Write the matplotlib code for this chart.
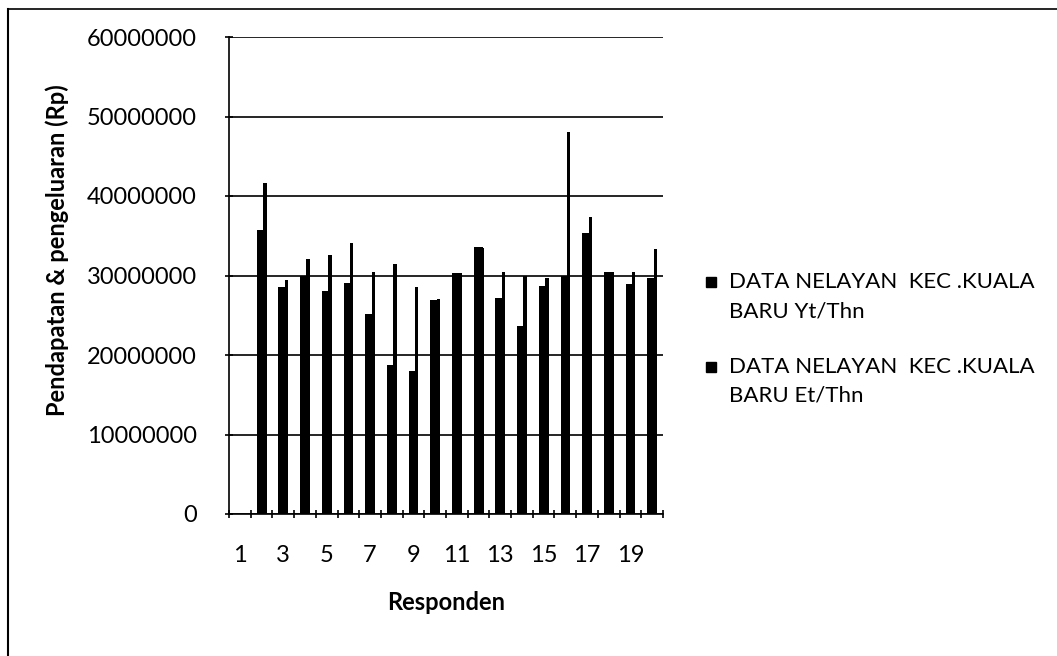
import numpy as np
import matplotlib.pyplot as plt
from matplotlib.lines import Line2D
from matplotlib.patches import Rectangle

plt.rcParams['font.family'] = ['Lato', 'DejaVu Sans']

# responden 1..20 (responden 1 has no bar in the picture)
responden = list(range(1, 21))
yt_thn = [0, 35.7e6, 28.5e6, 30.0e6, 28.1e6, 29.0e6, 25.1e6, 18.7e6, 18.0e6, 26.9e6,
          30.3e6, 33.6e6, 27.2e6, 23.6e6, 28.7e6, 29.9e6, 35.4e6, 30.5e6, 28.9e6, 29.7e6]
et_thn = [0, 41.6e6, 29.4e6, 32.1e6, 32.6e6, 34.1e6, 30.5e6, 31.5e6, 28.6e6, 27.1e6,
          30.0e6, 33.5e6, 30.5e6, 30.0e6, 29.7e6, 48.1e6, 37.3e6, 30.1e6, 30.5e6, 33.3e6]
tick_labels = [str(r) if r % 2 == 1 else '' for r in responden]
legend_labels = [('DATA NELAYAN  KEC .KUALA', 'BARU Yt/Thn'),
                 ('DATA NELAYAN  KEC .KUALA', 'BARU Et/Thn')]

W, H = 1057, 656
fig = plt.figure(figsize=(W / 100, H / 100), dpi=100)
ax = fig.add_axes([229 / W, 1 - 514 / H, 434 / W, 477 / H])

x = np.arange(len(responden))
ax.bar(x, yt_thn, width=0.44, color='black', zorder=3)
ax.bar(x + 0.15, et_thn, width=0.16, color='black', zorder=3)

ax.set_xlim(-0.5, len(responden) - 0.5)
ax.set_ylim(0, 60000000)
ax.set_yticks(np.arange(0, 60000001, 10000000))
ax.set_yticklabels([str(v) for v in range(0, 60000001, 10000000)])
ax.yaxis.grid(True, color='black', linewidth=1.2)
ax.set_axisbelow(True)

ax.set_xticks(x)
ax.set_xticklabels(tick_labels)
ax.set_xticks(np.arange(-0.5, len(responden), 1), minor=True)
ax.tick_params(axis='x', which='major', length=0, pad=22, labelsize=17)
ax.tick_params(axis='x', which='minor', length=6, direction='inout', width=1.2)
ax.tick_params(axis='y', length=6, direction='inout', width=1.2, pad=20, labelsize=17)

for s in ['top', 'right']:
    ax.spines[s].set_visible(False)
for s in ['left', 'bottom']:
    ax.spines[s].set_linewidth(1.2)

ax.set_xlabel('Responden', fontsize=17, fontweight='bold', labelpad=18)
fig.text(57 / W, 1 - 250 / H, 'Pendapatan & pengeluaran (Rp)', rotation=90,
         fontsize=17, fontweight='bold', ha='center', va='center')

# legend drawn by hand so the square sits on the first text line
for i, (l1, l2) in enumerate(legend_labels):
    y1 = 282 + i * 85
    fig.patches.append(Rectangle((706 / W, 1 - (y1 + 5) / H), 10 / W, 10 / H,
                                 transform=fig.transFigure, color='black'))
    fig.text(729 / W, 1 - y1 / H, l1, fontsize=16, va='center', ha='left')
    fig.text(729 / W, 1 - (y1 + 29) / H, l2, fontsize=16, va='center', ha='left')

# chart area frame (left and top edges visible)
fig.add_artist(Line2D([8 / W, 8 / W], [0, 1 - 9 / H], color='black', linewidth=1.5))
fig.add_artist(Line2D([8 / W, 1], [1 - 9 / H, 1 - 9 / H], color='black', linewidth=1.2))

fig.savefig('out.png', dpi=100)
